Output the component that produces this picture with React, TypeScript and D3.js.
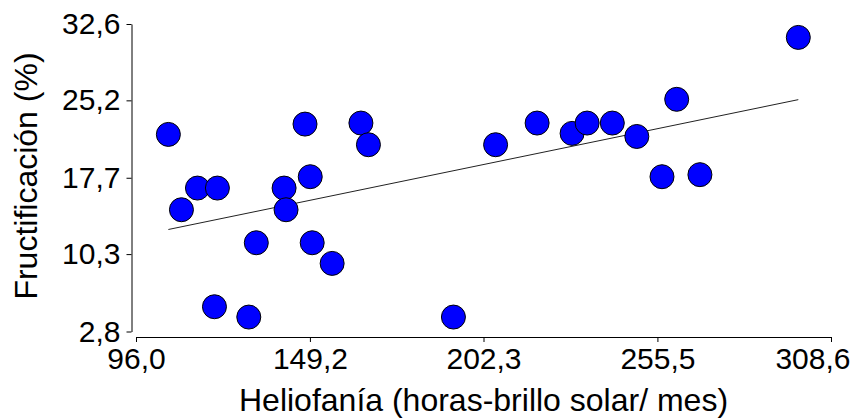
import React, { useEffect, useRef } from "react";
import * as d3 from "d3";

// Monthly sunshine hours vs. fruit set percentage
const heliofania = [
  105.9, 109.9, 114.8, 120.9, 120.0, 130.5, 132.8, 141.3, 141.9, 147.7, 149.3, 149.9, 156.0,
  164.8, 167.1, 193.1, 206.0, 218.7, 229.4, 234.0, 241.7, 249.2, 256.9, 261.4, 268.5, 298.6,
];
const fructificacion = [
  21.9, 14.6, 16.7, 16.7, 5.2, 4.2, 11.4, 16.7, 14.6, 22.9, 17.8, 11.4, 9.4,
  23.0, 20.9, 4.2, 20.9, 23.0, 22.0, 23.0, 23.0, 21.7, 17.8, 25.3, 18.0, 31.3,
];
const xTicks = [96.0, 149.2, 202.3, 255.5, 308.6];
const yTicks = [2.8, 10.3, 17.7, 25.2, 32.6];
const xTitle = "Heliofanía (horas-brillo solar/ mes)";
const yTitle = "Fructificación (%)";

const W = 852;
const H = 419;
const FONT = "'Liberation Sans', Arial, sans-serif";
const TICK_FONT = 30;
const TITLE_FONT = 32;

const fmt = (v: number) => d3.format(".1f")(v).replace(".", ",");

export default function App() {
  const xRef = useRef<SVGGElement>(null);
  const yRef = useRef<SVGGElement>(null);

  const x = d3.scaleLinear().domain([96.0, 308.6]).range([136, 831]);
  const y = d3.scaleLinear().domain([2.8, 32.6]).range([331.5, 24]);
  const xAxisY = 337;
  const yAxisX = 131.5;

  // ordinary least-squares fit
  const mx = d3.mean(heliofania) as number;
  const my = d3.mean(fructificacion) as number;
  let sxy = 0;
  let sxx = 0;
  heliofania.forEach((v, i) => {
    sxy += (v - mx) * (fructificacion[i] - my);
    sxx += (v - mx) * (v - mx);
  });
  const slope = sxy / sxx;
  const intercept = my - slope * mx;
  const [x0, x1] = d3.extent(heliofania) as [number, number];
  const fitLine = d3.line<number>()
    .x((v) => x(v))
    .y((v) => y(intercept + slope * v))([x0, x1]);

  useEffect(() => {
    const gx = d3.select(xRef.current!);
    gx.call(
      d3.axisBottom(x).tickValues(xTicks).tickFormat((d) => fmt(d as number))
        .tickSize(5).tickSizeOuter(0).tickPadding(6)
    );
    gx.selectAll("text").attr("font-size", TICK_FONT).attr("font-family", FONT).attr("fill", "#000");
    gx.selectAll("line, path").attr("stroke", "#000");
    // keep the last label inside the canvas
    gx.selectAll<SVGTextElement, number>(".tick text")
      .filter((d) => d === xTicks[xTicks.length - 1])
      .attr("text-anchor", "end")
      .attr("x", W - 2 - x(xTicks[xTicks.length - 1]));

    const gy = d3.select(yRef.current!);
    gy.call(
      d3.axisLeft(y).tickValues(yTicks).tickFormat((d) => fmt(d as number))
        .tickSize(5).tickSizeOuter(0).tickPadding(6)
    );
    gy.selectAll("text").attr("font-size", TICK_FONT).attr("font-family", FONT).attr("fill", "#000");
    gy.selectAll("line, path").attr("stroke", "#000");
  }, []);

  return (
    <svg
      width={W}
      height={H}
      style={{ position: "absolute", left: 0, top: 0, background: "#fff" }}
    >
      <rect width={W} height={H} fill="#fff" />
      <g ref={xRef} transform={`translate(0,${xAxisY})`} />
      <g ref={yRef} transform={`translate(${yAxisX},0)`} />
      <path d={fitLine ?? ""} fill="none" stroke="#222" strokeWidth={1} />
      {heliofania.map((v, i) => (
        <circle
          key={i}
          cx={x(v)}
          cy={y(fructificacion[i])}
          r={12}
          fill="#0000ff"
          stroke="#000"
          strokeWidth={1}
        />
      ))}
      <text
        x={483.5}
        y={411}
        textAnchor="middle"
        fontFamily={FONT}
        fontSize={TITLE_FONT}
        fill="#000"
      >
        {xTitle}
      </text>
      <text
        transform="translate(37,176) rotate(-90)"
        textAnchor="middle"
        fontFamily={FONT}
        fontSize={TITLE_FONT}
        fill="#000"
      >
        {yTitle}
      </text>
    </svg>
  );
}
